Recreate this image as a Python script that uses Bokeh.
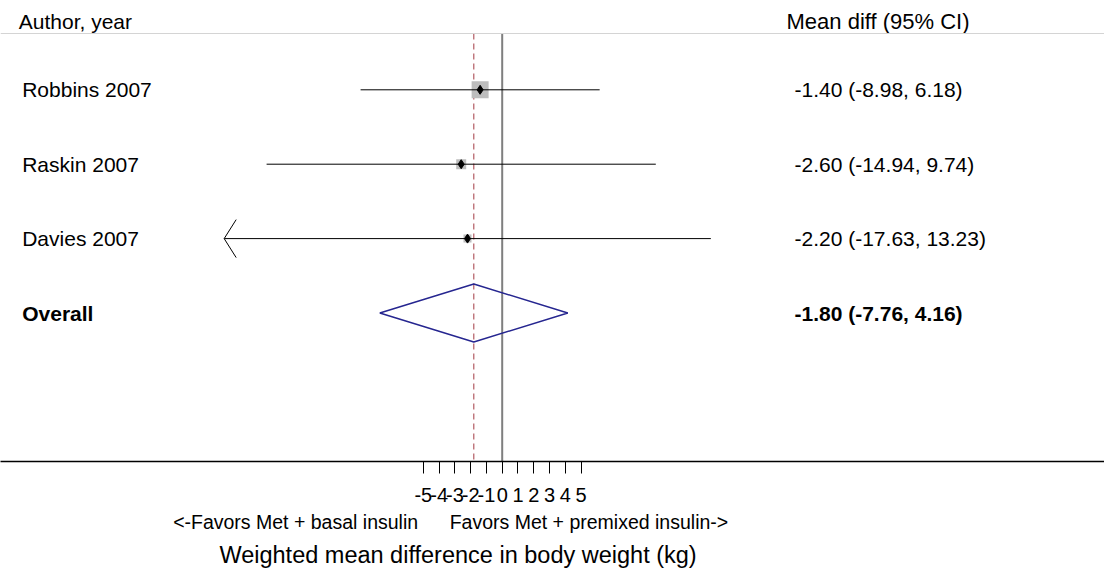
from bokeh.plotting import figure
from bokeh.models import Range1d, FixedTicker, Span, LinearAxis
from bokeh.core.properties import value
from bokeh.embed import file_html
from bokeh.resources import INLINE

# ---- data ----
studies = ["Robbins 2007", "Raskin 2007", "Davies 2007"]
est = [-1.40, -2.60, -2.20]
ci_lo = [-8.98, -14.94, -17.63]
ci_hi = [6.18, 9.74, 13.23]
weights_box = [17, 10, 8]          # box sizes (px) ~ study weight
overall_label = "Overall"
overall_est = -1.80
overall_lo = -7.76
overall_hi = 4.16
tick_values = [-5, -4, -3, -2, -1, 0, 1, 2, 3, 4, 5]
header_left = "Author, year"
header_right = "Mean diff (95% CI)"
favors_left = "<-Favors Met + basal insulin"
favors_right = "Favors Met + premixed insulin->"
x_title = "Weighted mean difference in body weight (kg)"

# ---- layout constants ----
X0 = 501.7          # px of zero
S = 15.77           # px per kg
W, H = 1104, 571
FRAME_H = 461
ROW_PX = 74.4
ROW1_PX = 89.3
FONT = "Liberation Sans"


def xd(px):
    return (px - X0) / S


def yd(px):
    return 1 + (px - ROW1_PX) / ROW_PX


rows = [1, 2, 3]
overall_row = 4

p = figure(width=W, height=H,
           x_range=Range1d(xd(0), xd(W)),
           y_range=Range1d(yd(FRAME_H), yd(0)),
           output_backend="svg", toolbar_location=None,
           y_axis_location=None,
           min_border_left=0, min_border_right=0, min_border_top=0,
           min_border_bottom=H - FRAME_H)
p.grid.visible = False
p.outline_line_color = None
p.background_fill_color = "white"

# header separator
line_top = yd(33)
p.add_layout(Span(location=line_top, dimension="width",
                  line_color="#d4d4d4", line_width=1))

# reference lines
p.segment(x0=[0], y0=[line_top], x1=[0], y1=[yd(FRAME_H)],
          line_color="#7f7f7f", line_width=2)
p.segment(x0=[overall_est], y0=[line_top], x1=[overall_est], y1=[yd(FRAME_H)],
          line_color="#a33b43", line_width=1, line_dash="6 4")

# boxes
p.scatter(x=est, y=rows, marker="square", size=weights_box,
          fill_color="#bdbdbd", line_color=None)
# CI lines
p.segment(x0=ci_lo, y0=rows, x1=ci_hi, y1=rows, line_color="black", line_width=1)
# arrows for CIs beyond the display limit
clip = -17.5
for lo, r in zip(ci_lo, rows):
    if lo < clip:
        p.segment(x0=[lo, lo], y0=[r, r], x1=[lo + 12 / S, lo + 12 / S],
                  y1=[r - 19 / ROW_PX, r + 19 / ROW_PX], line_color="black", line_width=1)
# point estimates
p.scatter(x=est, y=rows, marker="diamond", size=9, color="black")

# overall diamond
hh = 29 / ROW_PX
p.patch(x=[overall_lo, overall_est, overall_hi, overall_est],
        y=[overall_row, overall_row - hh, overall_row, overall_row + hh],
        fill_color=None, line_color="#262690", line_width=1.5)

# texts
left_x = xd(21.7)
right_x = xd(794)
p.text(x=[xd(18.3)], y=[yd(21)], text=[header_left],
       text_font=value(FONT), text_font_size="21px",
       text_baseline="middle", text_align="left", text_color="black")
p.text(x=[xd(786)], y=[yd(21)], text=[header_right],
       text_font=value(FONT), text_font_size="22px",
       text_baseline="middle", text_align="left", text_color="black")

p.text(x=[left_x] * len(studies), y=rows, text=studies,
       text_font=value(FONT), text_font_size="21px",
       text_baseline="middle", text_align="left", text_color="black")
vals = [f"{e:.2f} ({l:.2f}, {h:.2f})" for e, l, h in zip(est, ci_lo, ci_hi)]
p.text(x=[right_x] * len(vals), y=rows, text=vals,
       text_font=value(FONT), text_font_size="21px",
       text_baseline="middle", text_align="left", text_color="black")

p.text(x=[left_x], y=[overall_row], text=[overall_label],
       text_font=value(FONT), text_font_size="21px", text_font_style="bold",
       text_baseline="middle", text_align="left", text_color="black")
p.text(x=[right_x], y=[overall_row],
       text=[f"{overall_est:.2f} ({overall_lo:.2f}, {overall_hi:.2f})"],
       text_font=value(FONT), text_font_size="21px", text_font_style="bold",
       text_baseline="middle", text_align="left", text_color="black")

# x axis
ax = p.xaxis[0]
ax.ticker = FixedTicker(ticks=tick_values)
ax.major_label_overrides = {t: str(t) for t in tick_values}
ax.minor_tick_line_color = None
ax.major_tick_out = 12
ax.major_tick_in = 0
ax.major_tick_line_color = "black"
ax.axis_line_color = "black"
ax.axis_line_width = 1.5
ax.major_label_text_font = FONT
ax.major_label_text_font_size = "20px"
ax.major_label_text_color = "black"
ax.major_label_standoff = 14

# favours line (second axis, labels only)
fav_pos = [-13.1, 5.5]
ax2 = LinearAxis(ticker=FixedTicker(ticks=fav_pos),
                 major_label_overrides={fav_pos[0]: favors_left, fav_pos[1]: favors_right},
                 axis_line_color=None, major_tick_line_color=None,
                 minor_tick_line_color=None, major_tick_out=0, major_tick_in=0,
                 major_label_standoff=6,
                 major_label_text_font=FONT, major_label_text_font_size="19.5px",
                 major_label_text_color="black")
p.add_layout(ax2, "below")

# axis title (third axis, single label)
title_pos = [-2.8]
ax3 = LinearAxis(ticker=FixedTicker(ticks=title_pos),
                 major_label_overrides={title_pos[0]: x_title},
                 axis_line_color=None, major_tick_line_color=None,
                 minor_tick_line_color=None, major_tick_out=0, major_tick_in=0,
                 major_label_standoff=6,
                 major_label_text_font=FONT, major_label_text_font_size="23.5px",
                 major_label_text_color="black")
p.add_layout(ax3, "below")

open("out.html", "w").write(file_html(p, INLINE))
